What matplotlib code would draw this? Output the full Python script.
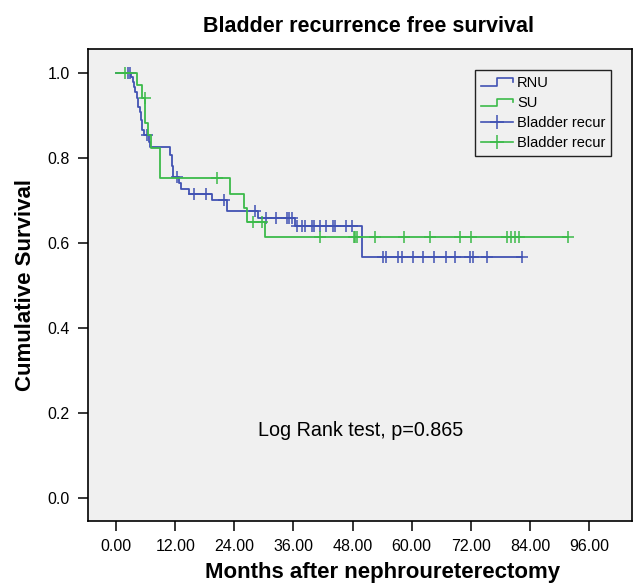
import numpy as np
import matplotlib
matplotlib.use("Agg")
import matplotlib.pyplot as plt
from matplotlib.legend_handler import HandlerBase
from matplotlib.lines import Line2D

# Kaplan-Meier steps (months, cumulative survival)
rnu_times = [0, 3.0, 3.4, 3.7, 3.9, 4.2, 4.5, 4.9, 5.1, 5.3, 5.7, 6.6, 6.9,
             11.0, 11.3, 11.6, 12.8, 13.2, 14.7, 19.4, 22.5, 28.8, 36.3, 50.0]
rnu_surv = [1.0, 0.99, 0.979, 0.967, 0.955, 0.94, 0.92, 0.908, 0.889, 0.865, 0.853, 0.838, 0.826,
            0.806, 0.782, 0.754, 0.741, 0.727, 0.715, 0.702, 0.674, 0.658, 0.639, 0.567]
rnu_end = 82.3
rnu_censor = [2.5, 2.9, 6.2, 12.3, 15.9, 18.2, 21.8, 28.2, 30.4, 32.4, 34.6, 35.1, 35.6,
              36.8, 37.7, 38.4, 39.7, 40.2, 41.4, 42.6, 44.0, 44.4, 46.7, 47.8,
              54.1, 54.8, 57.3, 58.0, 60.2, 62.3, 64.5, 66.9, 68.8, 71.8, 72.5, 75.3, 82.3]

su_times = [0, 4.3, 5.2, 5.9, 6.4, 7.0, 8.9, 23.1, 26.0, 26.6, 30.2]
su_surv = [1.0, 0.971, 0.941, 0.882, 0.853, 0.824, 0.753, 0.716, 0.681, 0.650, 0.613]
su_end = 91.8
su_censor = [1.8, 5.8, 20.4, 27.7, 29.6, 41.4, 48.2, 48.5, 48.9, 52.5, 58.5, 63.7, 69.7,
             72.0, 79.3, 80.1, 80.9, 81.8, 91.8]

x_ticks = [0, 12, 24, 36, 48, 60, 72, 84, 96]
y_ticks = [0.0, 0.2, 0.4, 0.6, 0.8, 1.0]

BLUE = "#4152b3"
GREEN = "#3cba4a"

plt.rcParams["font.family"] = ["Liberation Sans", "DejaVu Sans"]


class StepHandler(HandlerBase):
    def create_artists(self, legend, orig_handle, xdescent, ydescent, width, height, fontsize, trans):
        x0, x1 = -xdescent, -xdescent + width
        y0, y1 = -ydescent + height * 0.15, -ydescent + height * 0.85
        xs = [x0, x0 + width * 0.5, x0 + width * 0.5, x1, x1]
        ys = [y0, y0, y1, y1, y0 + height * 0.35]
        line = Line2D(xs, ys, color=orig_handle.get_color(), lw=1.2, transform=trans)
        return [line]


def censor_y(times, surv, censor):
    idx = np.searchsorted(times, censor, side="right") - 1
    return np.asarray(surv)[idx]


fig = plt.figure(figsize=(6.36, 5.87), dpi=100)
ax = fig.add_axes([0.1384, 0.1124, 0.8553, 0.8041])
ax.set_facecolor("#f0f0f0")

for times, surv, end, censor, color in [
    (rnu_times, rnu_surv, rnu_end, rnu_censor, BLUE),
    (su_times, su_surv, su_end, su_censor, GREEN),
]:
    xs = list(times) + [end]
    ys = list(surv) + [surv[-1]]
    ax.step(xs, ys, where="post", color=color, lw=1.3)
    ax.plot(censor, censor_y(times, surv, censor), ls="none", marker="+",
            ms=9, mew=1.1, color=color)

ax.set_xlim(-5.7, 104.7)
ax.set_ylim(-0.054, 1.056)
ax.set_xticks(x_ticks)
ax.set_xticklabels([f"{v:.2f}" for v in x_ticks])
ax.set_yticks(y_ticks)
ax.set_yticklabels([f"{v:.1f}" for v in y_ticks])
ax.tick_params(direction="out", length=7, width=1.1, labelsize=11.5, pad=6)
for spine in ax.spines.values():
    spine.set_linewidth(1.2)

ax.set_title("Bladder recurrence free survival", fontsize=15.5, fontweight="bold",
             x=0.516, pad=12)
ax.set_xlabel("Months after nephroureterectomy", fontsize=16, fontweight="bold",
              labelpad=6, x=0.542)
ax.set_ylabel("Cumulative Survival", fontsize=16, fontweight="bold", labelpad=8)

ax.text(28.8, 0.159, "Log Rank test, p=0.865", fontsize=14.2, va="center", ha="left")

h_rnu = Line2D([], [], color=BLUE)
h_su = Line2D([], [], color=GREEN)
h_c1 = Line2D([], [], color=BLUE, marker="+", ms=10, mew=1.1, lw=1.2)
h_c2 = Line2D([], [], color=GREEN, marker="+", ms=10, mew=1.1, lw=1.2)
leg = ax.legend([h_rnu, h_su, h_c1, h_c2], ["RNU", "SU", "Bladder recur", "Bladder recur"],
                handler_map={h_rnu: StepHandler(), h_su: StepHandler()},
                loc="upper left", bbox_to_anchor=(0.711, 0.955), fontsize=10.5,
                fancybox=False, framealpha=1, handlelength=2.2, handletextpad=0.3,
                labelspacing=0.42, borderpad=0.4, borderaxespad=0)
leg.get_frame().set_edgecolor("#222222")
leg.get_frame().set_facecolor("#f0f0f0")
leg.get_frame().set_linewidth(1.0)

fig.savefig("out.png", dpi=100)
